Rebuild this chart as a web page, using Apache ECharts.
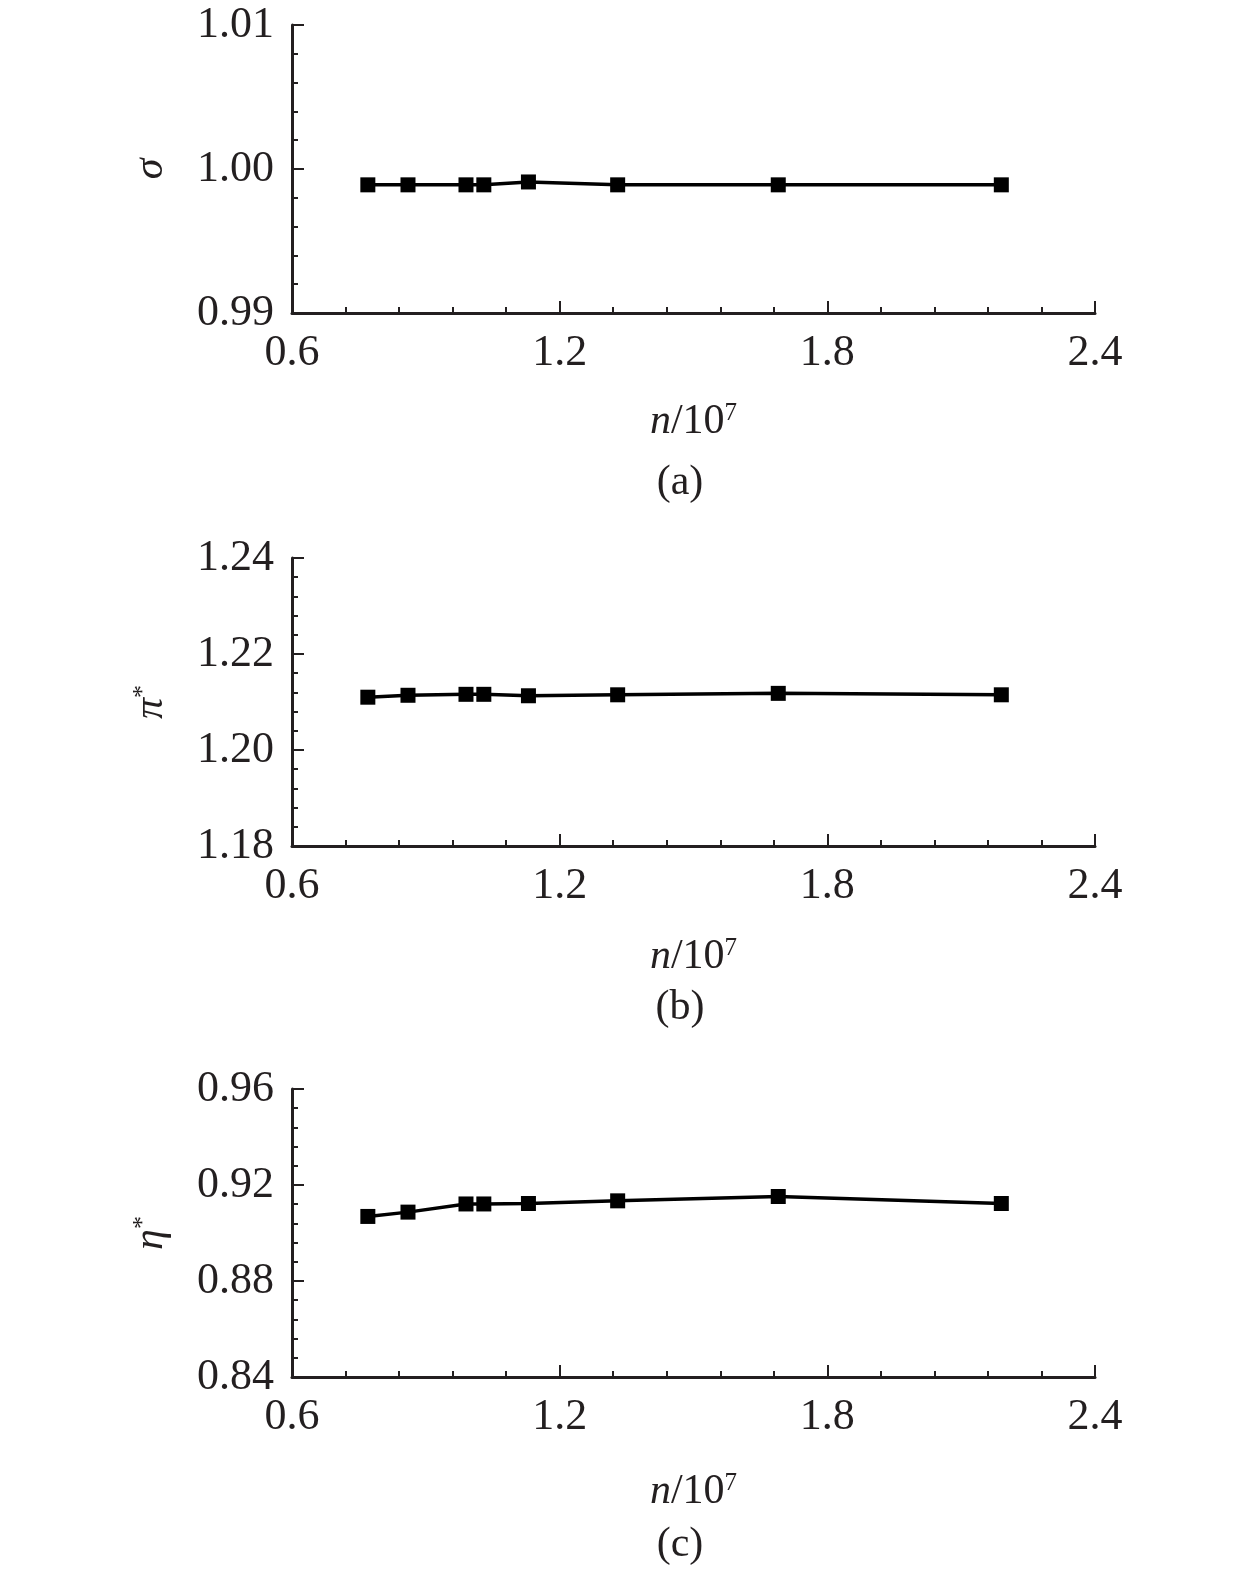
<!DOCTYPE html>
<html lang="en">
<head>
<meta charset="UTF-8">
<title>sigma / pi* / eta* vs n</title>
<style type="text/css">
    html, body { margin: 0; padding: 0; background: #fff; }
    #chart { width: 1260px; height: 1595px; }
</style>
</head>
<body>
<div id="chart"></div>
<script src="https://cdn.jsdelivr.net/npm/echarts@6/dist/echarts.min.js"></script>
<script type="text/javascript">
// grid size n / 10^7
var nValues = [0.77, 0.86, 0.99, 1.03, 1.13, 1.33, 1.69, 2.19];
// (a) sigma
var sigmaValues = [0.9989, 0.9989, 0.9989, 0.9989, 0.9991, 0.9989, 0.9989, 0.9989];
// (b) pi*
var piValues = [1.2110, 1.2114, 1.2116, 1.2116, 1.2113, 1.2115, 1.2118, 1.2115];
// (c) eta*
var etaValues = [0.9069, 0.9087, 0.9121, 0.9121, 0.9123, 0.9134, 0.9152, 0.9123];

var xTicks = { min: 0.6, max: 2.4, interval: 0.6 };
var yRanges = [
    { min: 0.99, max: 1.01, interval: 0.01 },
    { min: 1.18, max: 1.24, interval: 0.02 },
    { min: 0.84, max: 0.96, interval: 0.04 }
];
var yNames = ['{i|σ}', '{i|π}{sup|*}', '{i|η}{sup|*}'];
var captions = ['(a)', '(b)', '(c)'];

var FONT = "'Liberation Serif', 'Times New Roman', serif";
var INK = '#231f20';
var gridTops = [25, 558, 1089];
var gridH = 288;
var captionGap = [170, 162, 168];   // caption centre below the x axis
var xNameGap = [88, 90, 94];

function pairs(ys) {
    var out = [];
    for (var i = 0; i < nValues.length; i++) out.push([nValues[i], ys[i]]);
    return out;
}

var grids = [], xAxes = [], yAxes = [], series = [], graphics = [];
var allY = [sigmaValues, piValues, etaValues];

for (var k = 0; k < 3; k++) {
    grids.push({ left: 292, width: 803, top: gridTops[k], height: gridH, containLabel: false });
    xAxes.push({
        type: 'value', gridIndex: k,
        min: xTicks.min, max: xTicks.max, interval: xTicks.interval,
        name: '{i|n}/10{sup|7}', nameLocation: 'middle', nameGap: xNameGap[k],
        nameTextStyle: {
            fontFamily: FONT, fontSize: 42, color: INK,
            rich: {
                i: { fontFamily: FONT, fontSize: 42, fontStyle: 'italic', color: INK },
                sup: { fontFamily: FONT, fontSize: 25, color: INK, verticalAlign: 'top', padding: [0, 0, 14, 0] }
            }
        },
        axisLine: { lineStyle: { color: INK, width: 3 } },
        axisTick: { inside: true, length: 12, lineStyle: { color: INK, width: 2 } },
        minorTick: { show: true, splitNumber: 5, length: 6, lineStyle: { color: INK, width: 2 } },
        splitLine: { show: false },
        axisLabel: {
            fontFamily: FONT, fontSize: 44, color: INK, margin: 18,
            formatter: function (v) { return v.toFixed(1); }
        }
    });
    yAxes.push({
        type: 'value', gridIndex: k,
        min: yRanges[k].min, max: yRanges[k].max, interval: yRanges[k].interval,
        name: yNames[k], nameLocation: 'middle', nameGap: 120, nameRotate: 90,
        nameTextStyle: {
            fontFamily: FONT, fontSize: 42, color: INK,
            rich: {
                i: { fontFamily: FONT, fontSize: 42, fontStyle: 'italic', color: INK },
                sup: { fontFamily: FONT, fontSize: 26, color: INK, verticalAlign: 'top', padding: [0, 0, 14, 0] }
            }
        },
        axisLine: { show: true, lineStyle: { color: INK, width: 3 } },
        axisTick: { show: true, inside: true, length: 12, lineStyle: { color: INK, width: 2 } },
        minorTick: { show: true, splitNumber: 5, length: 6, lineStyle: { color: INK, width: 2 } },
        splitLine: { show: false },
        axisLabel: {
            fontFamily: FONT, fontSize: 44, color: INK, margin: 18,
            formatter: function (v) { return v.toFixed(2); }
        }
    });
    series.push({
        type: 'line', xAxisIndex: k, yAxisIndex: k,
        data: pairs(allY[k]),
        symbol: 'rect', symbolSize: 15,
        lineStyle: { color: '#000', width: 3.5 },
        itemStyle: { color: '#000' },
        animation: false
    });
    graphics.push({
        type: 'text', x: 680, y: gridTops[k] + gridH + captionGap[k],
        style: {
            text: captions[k], fontFamily: FONT, fontSize: 42, fill: INK,
            textAlign: 'center', textVerticalAlign: 'middle'
        }
    });
}

var myChart = echarts.init(document.getElementById('chart'));
myChart.setOption({
    backgroundColor: '#fff',
    animation: false,
    grid: grids,
    xAxis: xAxes,
    yAxis: yAxes,
    series: series,
    graphic: graphics
});
</script>
</body>
</html>
